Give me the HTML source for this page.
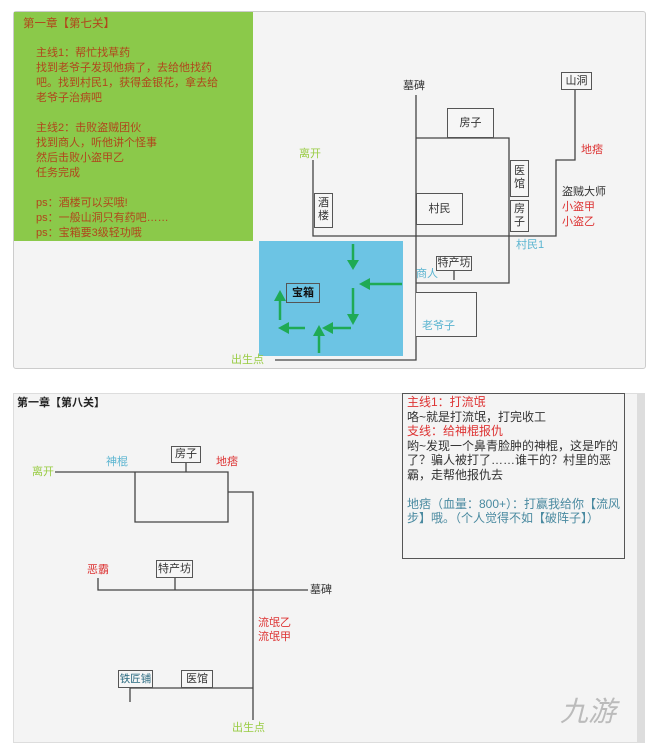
<!DOCTYPE html>
<html><head><meta charset="utf-8"><style>
body{margin:0;width:650px;height:746px;background:#fff;position:relative;overflow:hidden;font-family:"Liberation Sans","Noto Sans CJK SC",sans-serif;}
.t{position:absolute;font-size:11px;line-height:13px;white-space:nowrap;}
.box{position:absolute;border:1px solid #555;background:#f6f6f6;font-size:11px;line-height:13px;text-align:center;color:#333;box-sizing:border-box;white-space:nowrap;overflow:visible;}
</style></head><body>
<div style="position:absolute;left:13px;top:11px;width:631px;height:356px;background:#f4f4f4;border:1px solid #ccc;border-radius:3px;"></div>
<div style="position:absolute;left:14px;top:12px;width:239px;height:229px;background:#8bc94a;"></div>
<div class="t" style="left:23px;top:18px;color:#b0461c;font-size:11.5px;">第一章【第七关】</div>
<div class="t" style="left:36px;top:46px;color:#b0461c;line-height:15px;">主线1：帮忙找草药<br>找到老爷子发现他病了，去给他找药<br>吧。找到村民1，获得金银花，拿去给<br>老爷子治病吧<br><br>主线2：击败盗贼团伙<br>找到商人，听他讲个怪事<br>然后击败小盗甲乙<br>任务完成<br><br>ps：酒楼可以买哦!<br>ps：一般山洞只有药吧……<br>ps：宝箱要3级轻功哦</div>
<div style="position:absolute;left:259px;top:241px;width:144px;height:115px;background:#6cc4e4;"></div>
<svg style="position:absolute;left:0;top:0" width="650" height="746">
<g stroke="#444" stroke-width="1.3" fill="none">
<path d="M313 160V236H556V160H575V82"/>
<path d="M416 95V360H275"/>
<path d="M416 138H509V283H416"/>
<path d="M454 270V280"/>
</g>
<g stroke="#1faa55" stroke-width="2.5" fill="#1faa55">
<path d="M353 244V262"/><path d="M347 260L353 270L359 260Z" stroke="none"/>
<path d="M402 284H368"/><path d="M370 278L359 284L370 290Z" stroke="none"/>
<path d="M353 288V316"/><path d="M347 314L353 325L359 314Z" stroke="none"/>
<path d="M351 328H331"/><path d="M333 322L322 328L333 334Z" stroke="none"/>
<path d="M319 353V334"/><path d="M313 336L319 325L325 336Z" stroke="none"/>
<path d="M305 328H287"/><path d="M289 322L278 328L289 334Z" stroke="none"/>
<path d="M280 320V299"/><path d="M274 301L280 290L286 301Z" stroke="none"/>
</g>
</svg>
<div class="box" style="left:314px;top:193px;width:19px;height:35px;padding-top:3px;">酒<br>楼</div>
<div class="box" style="left:447px;top:108px;width:47px;height:30px;line-height:28px;">房子</div>
<div class="box" style="left:416px;top:193px;width:47px;height:32px;line-height:30px;">村民</div>
<div class="box" style="left:510px;top:160px;width:19px;height:37px;padding-top:4px;">医<br>馆</div>
<div class="box" style="left:510px;top:200px;width:19px;height:32px;padding-top:2px;">房<br>子</div>
<div class="box" style="left:561px;top:72px;width:31px;height:18px;line-height:16px;">山洞</div>
<div class="box" style="left:436px;top:256px;width:36px;height:15px;line-height:13px;">特产坊</div>
<div class="box" style="left:416px;top:292px;width:61px;height:45px;border-left:none;"></div>
<div class="box" style="left:286px;top:283px;width:34px;height:20px;line-height:18px;font-weight:bold;color:#111;background:#6cc4e4;">宝箱</div>
<div class="t" style="left:403px;top:80px;color:#333;">墓碑</div>
<div class="t" style="left:299px;top:148px;color:#9c4;">离开</div>
<div class="t" style="left:581px;top:144px;color:#d33;">地痞</div>
<div class="t" style="left:562px;top:185px;color:#333;line-height:15px;">盗贼大师<br><span style="color:#d33">小盗甲<br>小盗乙</span></div>
<div class="t" style="left:516px;top:239px;color:#5ab4d0;">村民1</div>
<div class="t" style="left:416px;top:268px;color:#5ab4d0;">商人</div>
<div class="t" style="left:422px;top:320px;color:#5ab4d0;">老爷子</div>
<div class="t" style="left:231px;top:354px;color:#9c4;">出生点</div>

<div style="position:absolute;left:13px;top:393px;width:624px;height:348px;background:#f4f4f4;border:1px solid #ddd;"></div>
<div style="position:absolute;left:637px;top:393px;width:8px;height:350px;background:#ddd;"></div>
<div class="t" style="left:17px;top:397px;color:#222;font-weight:bold;">第一章【第八关】</div>
<div style="position:absolute;left:402px;top:393px;width:223px;height:166px;border:1px solid #555;box-sizing:border-box;"></div>
<div class="t" style="left:407px;top:395px;font-size:12px;line-height:14.5px;color:#333;white-space:normal;width:214px;">
<span style="color:#d33">主线1：打流氓</span><br>咯~就是打流氓，打完收工<br><span style="color:#d33">支线：给神棍报仇</span><br>哟~发现一个鼻青脸肿的神棍，这是咋的了？骗人被打了……谁干的？村里的恶霸，走帮他报仇去<br><br><span style="color:#4a8aa0">地痞（血量：800+）：打赢我给你【流风步】哦。（个人觉得不如【破阵子】）</span></div>
<svg style="position:absolute;left:0;top:0" width="650" height="746">
<g stroke="#444" stroke-width="1.3" fill="none">
<path d="M55 472H228V522H135V472"/><path d="M186 463V472"/><path d="M228 492H253V720"/>
<path d="M98 578V590H308"/><path d="M175 578V590"/><path d="M130 702V688H253"/>
</g></svg>
<div class="t" style="left:32px;top:466px;color:#9c4;">离开</div>
<div class="t" style="left:106px;top:456px;color:#5ab4d0;">神棍</div>
<div class="t" style="left:216px;top:456px;color:#d33;">地痞</div>
<div class="box" style="left:171px;top:446px;width:30px;height:17px;line-height:15px;">房子</div>
<div class="t" style="left:87px;top:564px;color:#d33;">恶霸</div>
<div class="box" style="left:156px;top:560px;width:37px;height:18px;line-height:16px;">特产坊</div>
<div class="t" style="left:310px;top:584px;color:#333;">墓碑</div>
<div class="t" style="left:258px;top:616px;color:#d33;line-height:14px;">流氓乙<br>流氓甲</div>
<div class="box" style="left:118px;top:670px;width:35px;height:18px;line-height:16px;color:#2a6a80;font-size:10.5px;">铁匠铺</div>
<div class="box" style="left:181px;top:670px;width:32px;height:18px;line-height:16px;">医馆</div>
<div class="t" style="left:232px;top:722px;color:#9c4;">出生点</div>
<div class="t" style="left:560px;top:695px;font-size:28px;line-height:34px;color:#bbb;font-style:italic;">九游</div>
</body></html>
